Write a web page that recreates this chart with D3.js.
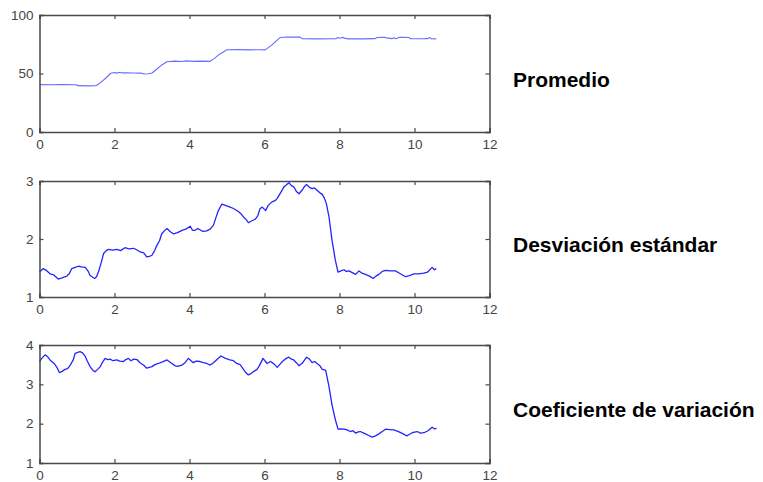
<!DOCTYPE html>
<html>
<head>
<meta charset="utf-8">
<script src="https://cdn.jsdelivr.net/npm/d3@7"></script>
<style>
  html, body { margin: 0; padding: 0; background: #fff; }
  svg { display: block; }
</style>
</head>
<body>
<svg id="chart" width="763" height="482"></svg>
<script>
// Shared time axis
const xTicks = [0, 2, 4, 6, 8, 10, 12];

// Panel 1: mean
const meanT = [0, 0.3, 0.6, 0.98, 1.02, 1.3, 1.5, 1.6, 1.75, 1.9, 2.0, 2.05, 2.15, 2.2, 2.3, 2.5, 2.7, 2.8, 2.9, 3.0, 3.1, 3.25, 3.4, 3.6, 3.8, 3.9, 4.1, 4.3, 4.55, 4.65, 4.8, 5.0, 5.3, 5.6, 5.9, 6.02, 6.2, 6.42, 6.6, 6.95, 7.0, 7.4, 7.9, 7.95, 8.0, 8.1, 8.15, 8.25, 8.3, 8.6, 8.95, 9.0, 9.2, 9.3, 9.4, 9.45, 9.5, 9.6, 9.7, 9.85, 9.9, 10.2, 10.35, 10.4, 10.45, 10.58];
const meanV = [40.5, 40.4, 40.5, 40.4, 39.6, 39.4, 39.5, 41.5, 45.5, 50.2, 50.8, 50.3, 51.0, 50.5, 50.7, 50.4, 50.3, 49.6, 49.8, 50.4, 53, 57, 60.0, 60.6, 60.3, 60.8, 60.4, 60.6, 60.4, 62.5, 66.5, 70.3, 70.4, 70.2, 70.3, 70.2, 74.5, 80.8, 81.2, 81.1, 79.8, 79.6, 79.7, 80.8, 80.2, 80.9, 80.0, 79.6, 79.7, 79.6, 79.8, 80.8, 80.9, 80.2, 79.8, 80.6, 79.7, 80.9, 81.0, 80.8, 79.7, 79.7, 79.8, 80.8, 79.7, 79.6];

// Panel 2: standard deviation
const sdT = [0, 0.05, 0.1, 0.18, 0.28, 0.38, 0.5, 0.6, 0.73, 0.8, 0.86, 0.95, 1.04, 1.12, 1.22, 1.3, 1.35, 1.42, 1.47, 1.52, 1.57, 1.64, 1.71, 1.78, 1.84, 1.95, 2.06, 2.16, 2.28, 2.38, 2.51, 2.6, 2.68, 2.78, 2.86, 2.93, 3.0, 3.07, 3.13, 3.2, 3.26, 3.33, 3.4, 3.48, 3.57, 3.68, 3.8, 3.9, 4.02, 4.08, 4.15, 4.22, 4.28, 4.36, 4.46, 4.55, 4.64, 4.7, 4.77, 4.86, 4.96, 5.08, 5.16, 5.24, 5.31, 5.38, 5.44, 5.52, 5.57, 5.65, 5.75, 5.82, 5.88, 5.94, 6.03, 6.1, 6.2, 6.28, 6.34, 6.43, 6.52, 6.58, 6.65, 6.72, 6.78, 6.85, 6.92, 7.0, 7.06, 7.12, 7.2, 7.27, 7.33, 7.4, 7.47, 7.54, 7.6, 7.65, 7.72, 7.8, 7.89, 7.96, 8.04, 8.12, 8.18, 8.25, 8.34, 8.43, 8.52, 8.6, 8.69, 8.8, 8.9, 8.97, 9.05, 9.14, 9.23, 9.35, 9.49, 9.6, 9.68, 9.76, 9.87, 9.98, 10.1, 10.25, 10.35, 10.47, 10.53, 10.58];
const sdV = [1.43, 1.46, 1.49, 1.46, 1.40, 1.38, 1.31, 1.33, 1.36, 1.41, 1.49, 1.51, 1.53, 1.52, 1.51, 1.44, 1.37, 1.34, 1.32, 1.35, 1.43, 1.58, 1.75, 1.80, 1.82, 1.81, 1.82, 1.80, 1.85, 1.83, 1.84, 1.81, 1.78, 1.76, 1.69, 1.70, 1.72, 1.80, 1.89, 1.97, 2.09, 2.14, 2.18, 2.13, 2.09, 2.11, 2.15, 2.17, 2.22, 2.15, 2.15, 2.18, 2.16, 2.13, 2.14, 2.17, 2.24, 2.36, 2.49, 2.60, 2.58, 2.55, 2.53, 2.50, 2.47, 2.43, 2.38, 2.33, 2.28, 2.31, 2.34, 2.40, 2.52, 2.55, 2.49, 2.58, 2.64, 2.66, 2.70, 2.80, 2.90, 2.93, 2.97, 2.92, 2.90, 2.82, 2.78, 2.84, 2.90, 2.94, 2.89, 2.87, 2.88, 2.84, 2.80, 2.77, 2.70, 2.61, 2.38, 1.98, 1.63, 1.43, 1.45, 1.47, 1.44, 1.45, 1.42, 1.39, 1.45, 1.41, 1.39, 1.36, 1.32, 1.36, 1.39, 1.44, 1.46, 1.45, 1.45, 1.41, 1.38, 1.35, 1.37, 1.40, 1.40, 1.41, 1.43, 1.51, 1.47, 1.49];

// Panel 3: coefficient of variation
const cvT = [0, 0.06, 0.15, 0.22, 0.28, 0.39, 0.46, 0.53, 0.6, 0.68, 0.75, 0.82, 0.9, 0.95, 1.02, 1.08, 1.15, 1.22, 1.28, 1.35, 1.42, 1.48, 1.55, 1.62, 1.68, 1.75, 1.82, 1.88, 1.96, 2.06, 2.14, 2.24, 2.3, 2.37, 2.44, 2.51, 2.6, 2.68, 2.77, 2.86, 2.93, 3.0, 3.08, 3.17, 3.28, 3.4, 3.5, 3.62, 3.7, 3.8, 3.88, 3.97, 4.04, 4.1, 4.18, 4.28, 4.37, 4.46, 4.55, 4.64, 4.74, 4.84, 4.96, 5.08, 5.17, 5.26, 5.35, 5.44, 5.5, 5.57, 5.65, 5.72, 5.8, 5.85, 5.96, 6.07, 6.16, 6.25, 6.34, 6.42, 6.5, 6.58, 6.65, 6.72, 6.78, 6.85, 6.92, 7.02, 7.12, 7.2, 7.27, 7.34, 7.4, 7.47, 7.54, 7.63, 7.72, 7.8, 7.89, 7.96, 8.04, 8.12, 8.2, 8.29, 8.36, 8.43, 8.5, 8.56, 8.62, 8.69, 8.78, 8.87, 8.96, 9.05, 9.14, 9.23, 9.34, 9.45, 9.54, 9.63, 9.72, 9.79, 9.87, 9.94, 10.07, 10.16, 10.25, 10.36, 10.47, 10.53, 10.59];
const cvV = [3.58, 3.66, 3.75, 3.70, 3.62, 3.53, 3.44, 3.30, 3.33, 3.38, 3.40, 3.49, 3.62, 3.79, 3.81, 3.83, 3.80, 3.71, 3.58, 3.45, 3.36, 3.32, 3.38, 3.45, 3.56, 3.66, 3.63, 3.64, 3.60, 3.62, 3.59, 3.58, 3.63, 3.66, 3.60, 3.64, 3.63, 3.55, 3.49, 3.41, 3.43, 3.45, 3.50, 3.53, 3.57, 3.62, 3.55, 3.47, 3.46, 3.49, 3.55, 3.66, 3.60, 3.55, 3.59, 3.58, 3.55, 3.53, 3.49, 3.55, 3.64, 3.72, 3.66, 3.62, 3.60, 3.53, 3.50, 3.38, 3.30, 3.24, 3.28, 3.33, 3.38, 3.45, 3.66, 3.53, 3.58, 3.52, 3.43, 3.52, 3.60, 3.66, 3.69, 3.64, 3.62, 3.55, 3.47, 3.55, 3.69, 3.64, 3.55, 3.58, 3.53, 3.48, 3.38, 3.36, 2.94, 2.48, 2.10, 1.86, 1.87, 1.86, 1.84, 1.80, 1.82, 1.76, 1.79, 1.80, 1.77, 1.74, 1.70, 1.66, 1.69, 1.74, 1.80, 1.86, 1.85, 1.84, 1.81, 1.77, 1.73, 1.69, 1.73, 1.77, 1.80, 1.76, 1.77, 1.82, 1.91, 1.87, 1.88];

const panels = [
  { t: meanT, v: meanV, domain: [0, 100], ticks: [0, 50, 100], label: "Promedio", top: 15, height: 117, stroke: "#6b6bff", width: 1.1 },
  { t: sdT, v: sdV, domain: [1, 3], ticks: [1, 2, 3], label: "Desviación estándar", top: 181, height: 116, stroke: "#2424ff", width: 1.3 },
  { t: cvT, v: cvV, domain: [1, 4], ticks: [1, 2, 3, 4], label: "Coeficiente de variación", top: 345, height: 118, stroke: "#2424ff", width: 1.3 }
];

const svg = d3.select("#chart");
const left = 39.5, right = 489.5;
const axisColor = "#4a4a4a";
const tickLen = 4;

const x = d3.scaleLinear().domain([0, 12]).range([left, right]);

panels.forEach(p => {
  const y = d3.scaleLinear().domain(p.domain).range([p.top + p.height, p.top]);
  const g = svg.append("g");

  // data line
  const pts = p.t.map((t, i) => [t, p.v[i]]);
  g.append("path")
    .datum(pts)
    .attr("fill", "none")
    .attr("stroke", p.stroke)
    .attr("stroke-width", p.width)
    .attr("stroke-linejoin", "round")
    .attr("d", d3.line().x(d => x(d[0])).y(d => y(d[1])));

  // bottom / top axes with inward ticks
  const xb = d3.axisBottom(x).tickValues(xTicks).tickSize(-tickLen).tickPadding(7).tickFormat(d3.format("d"));
  const xt = d3.axisTop(x).tickValues(xTicks).tickSize(-tickLen).tickFormat("");
  const yl = d3.axisLeft(y).tickValues(p.ticks).tickSize(-tickLen).tickPadding(6).tickFormat(d3.format("d"));
  const yr = d3.axisRight(y).tickValues(p.ticks).tickSize(-tickLen).tickFormat("");

  const gb = g.append("g").attr("transform", `translate(0,${p.top + p.height})`).call(xb);
  const gt = g.append("g").attr("transform", `translate(0,${p.top})`).call(xt);
  const gl = g.append("g").attr("transform", `translate(${left},0)`).call(yl);
  const gr = g.append("g").attr("transform", `translate(${right},0)`).call(yr);

  [gb, gt, gl, gr].forEach(a => {
    a.select(".domain").attr("stroke", axisColor).attr("stroke-width", 1.5);
    a.selectAll(".tick line").attr("stroke", axisColor).attr("stroke-width", 1.2);
    a.selectAll("text")
      .attr("fill", "#444")
      .style("font-family", "'Liberation Sans', Arial, sans-serif")
      .style("font-size", "13.5px");
  });

  // panel title on the right
  svg.append("text")
    .attr("x", 513)
    .attr("y", p.top + p.height / 2 + 13)
    .attr("fill", "#000")
    .style("font-family", "'Liberation Sans', Arial, sans-serif")
    .style("font-weight", "bold")
    .style("font-size", "21px")
    .text(p.label);
});
</script>
</body>
</html>
